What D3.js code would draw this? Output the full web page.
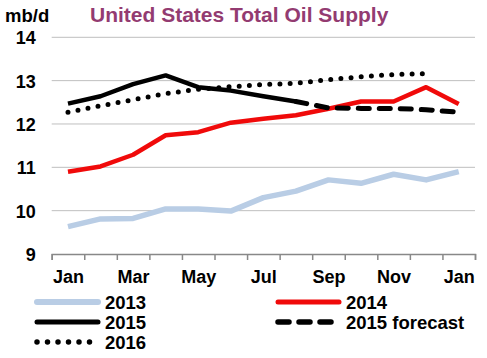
<!DOCTYPE html>
<html lang="en">
<head>
    <meta charset="UTF-8">
    <title>United States Total Oil Supply</title>
    <style>
        body { margin: 0; background: #fff; }
        svg { display: block; font-family: "Liberation Sans", Arial, sans-serif; }
        .grid line { stroke: #bfbfbf; stroke-width: 1; }
        .tick text { font-weight: bold; fill: #000; }
    </style>
    <script src="https://d3js.org/d3.v7.min.js"></script>
</head>
<body>
<svg width="487" height="358"></svg>
<script>
    // month labels (13 points, Jan to Jan)
    const months = ["Jan", "Feb", "Mar", "Apr", "May", "Jun", "Jul", "Aug", "Sep", "Oct", "Nov", "Dec", "Jan"];
    const yTicks = [9, 10, 11, 12, 13, 14];

    // series values, mb/d
    const s2013 = [9.63, 9.81, 9.82, 10.04, 10.04, 9.99, 10.30, 10.45, 10.71, 10.63, 10.84, 10.71, 10.90];
    const s2014 = [10.90, 11.02, 11.29, 11.74, 11.81, 12.03, 12.12, 12.20, 12.35, 12.52, 12.52, 12.85, 12.46];
    const s2015 = [12.47, 12.64, 12.92, 13.12, 12.85, 12.77, 12.64, 12.52];
    const s2015f = [null, null, null, null, null, null, null, 12.52, 12.37, 12.36, 12.36, 12.33, 12.27];
    const s2016 = [12.27, 12.42, 12.56, 12.70, 12.80, 12.86, 12.91, 12.94, 13.02, 13.09, 13.14, 13.16];

    const svg = d3.select("svg");
    const pLeft = 51.7, pRight = 475, pTop = 37.3, pBottom = 254;

    const x = d3.scaleLinear().domain([-0.5, 12.5]).range([pLeft, pRight]);
    const y = d3.scaleLinear().domain([9, 14]).range([pBottom, pTop]);

    // gridlines
    svg.append("g").attr("class", "grid")
        .selectAll("line")
        .data(yTicks.slice(1))
        .enter().append("line")
        .attr("x1", pLeft).attr("x2", pRight)
        .attr("y1", d => y(d)).attr("y2", d => y(d));

    // y axis labels
    const yAxis = svg.append("g")
        .attr("transform", `translate(${pLeft},0)`)
        .call(d3.axisLeft(y).tickValues(yTicks).tickSize(0).tickPadding(16).tickFormat(d3.format("d")));
    yAxis.select(".domain").remove();
    yAxis.selectAll("text").style("font-size", "18px").attr("dy", "0.36em");

    // x axis ticks at band edges
    const xTickAxis = svg.append("g")
        .attr("transform", `translate(0,${pBottom})`)
        .call(d3.axisBottom(x).tickValues(d3.range(-0.5, 13, 1)).tickSize(6).tickFormat(""));
    xTickAxis.select(".domain").attr("stroke", "#888").attr("stroke-width", 1.5);
    xTickAxis.selectAll(".tick line").attr("stroke", "#888").attr("stroke-width", 1.5);

    // x labels every second month
    const xLabAxis = svg.append("g")
        .attr("transform", `translate(0,${pBottom})`)
        .call(d3.axisBottom(x).tickValues(d3.range(0, 13, 2)).tickSize(0).tickPadding(16).tickFormat(i => months[i]));
    xLabAxis.select(".domain").remove();
    xLabAxis.selectAll("text").style("font-size", "18px");

    const line = d3.line()
        .defined(d => d != null)
        .x((d, i) => x(i))
        .y(d => y(d));

    const series = [
        { name: "2013", data: s2013, color: "#b9cde5", width: 5.5, dash: null },
        { name: "2014", data: s2014, color: "#f00a0a", width: 4.5, dash: null },
        { name: "2015", data: s2015, color: "#000", width: 4.5, dash: null },
        { name: "2015 forecast", data: s2015f, color: "#000", width: 5, dash: "11,10" },
        { name: "2016", data: s2016, color: "#000", width: 5, dash: "0,10.2" }
    ];

    svg.append("g").selectAll("path")
        .data(series)
        .enter().append("path")
        .attr("d", d => line(d.data))
        .attr("fill", "none")
        .attr("stroke", d => d.color)
        .attr("stroke-width", d => d.width)
        .attr("stroke-linecap", d => d.dash ? "round" : "butt")
        .attr("stroke-linejoin", "round")
        .attr("stroke-dasharray", d => d.dash);

    // legend
    const legendPos = [
        { x: 37, y: 302 }, { x: 278, y: 302 },
        { x: 37, y: 322 }, { x: 278, y: 322 },
        { x: 37, y: 342 }
    ];
    const legendOrder = ["2013", "2014", "2015", "2015 forecast", "2016"];
    const leg = svg.append("g").selectAll("g")
        .data(legendOrder.map(n => series.find(s => s.name === n)))
        .enter().append("g")
        .attr("transform", (d, i) => `translate(${legendPos[i].x},${legendPos[i].y})`);
    leg.append("line")
        .attr("x1", 0).attr("x2", d => d.name === "2016" ? 54 : 61)
        .attr("stroke", d => d.color)
        .attr("stroke-width", d => d.width + 0.5)
        .attr("stroke-linecap", "round")
        .attr("stroke-dasharray", d => d.name === "2016" ? "0,10.5" : d.dash ? "11,10" : null);
    leg.append("text")
        .attr("x", 68).attr("dy", "0.36em")
        .style("font-size", "18.5px").style("font-weight", "bold")
        .text(d => d.name);

    // titles
    svg.append("text").attr("x", 5).attr("y", 22)
        .style("font-size", "18.5px").style("font-weight", "bold")
        .text("mb/d");
    svg.append("text").attr("x", 90).attr("y", 22)
        .style("font-size", "21px").style("font-weight", "bold").attr("fill", "#933b71")
        .text("United States Total Oil Supply");
</script>
</body>
</html>
